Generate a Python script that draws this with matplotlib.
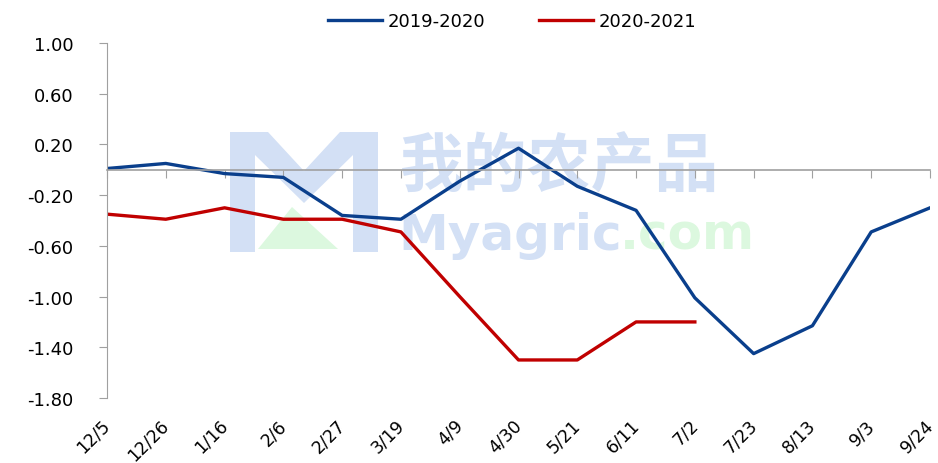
import matplotlib
matplotlib.use("Agg")
import matplotlib.pyplot as plt
from matplotlib.patches import Polygon

plt.rcParams["font.family"] = ["DejaVu Sans", "Noto Sans CJK SC"]
plt.rcParams["axes.unicode_minus"] = False

# ── data ──────────────────────────────────────────────────────────────────────
dates = ["12/5", "12/26", "1/16", "2/6", "2/27", "3/19", "4/9", "4/30",
         "5/21", "6/11", "7/2", "7/23", "8/13", "9/3", "9/24"]
s2019 = [0.01, 0.05, -0.03, -0.06, -0.36, -0.39, -0.09, 0.17,
         -0.13, -0.32, -1.01, -1.45, -1.23, -0.49, -0.30]
s2020 = [-0.35, -0.39, -0.30, -0.39, -0.39, -0.49, -1.00, -1.50,
         -1.50, -1.20, -1.20]
yticks = [1.00, 0.60, 0.20, -0.20, -0.60, -1.00, -1.40, -1.80]

BLUE = "#0a3f8c"
RED = "#c00000"
WM_BLUE = "#d3e0f5"
WM_GREEN = "#dcf8df"

W, H = 938, 464
fig = plt.figure(figsize=(W / 100, H / 100), dpi=100)
ax = fig.add_axes([107 / W, 1 - 399 / H, (930 - 107) / W, (399 - 44) / H])
ax.patch.set_alpha(0)


def px(x, y):
    # pixel (from top-left) -> figure fraction
    return (x / W, 1 - y / H)


# ── watermark (behind the axes) ───────────────────────────────────────────────
m_logo = [(230, 253), (230, 133), (268, 133), (304, 172), (340, 133),
          (378, 133), (378, 253), (353, 253), (353, 156), (304, 204),
          (255, 156), (255, 253)]
fig.patches.append(Polygon([px(*p) for p in m_logo], closed=True,
                           transform=fig.transFigure, facecolor=WM_BLUE,
                           edgecolor="none", zorder=-2))
tri = [(258, 250), (292, 208), (338, 250)]
fig.patches.append(Polygon([px(*p) for p in tri], closed=True,
                           transform=fig.transFigure, facecolor=WM_GREEN,
                           edgecolor="none", zorder=-2))
fig.text(*px(400, 168), "我的农产品", fontsize=46, fontweight="bold",
         color=WM_BLUE, ha="left", va="center", zorder=-1,
         family="Noto Sans CJK SC")
fig.text(*px(398, 236), "Myagric", fontsize=36, fontweight="bold",
         color=WM_BLUE, ha="left", va="center", zorder=-1)
fig.text(*px(620, 236), ".com", fontsize=36, fontweight="bold",
         color=WM_GREEN, ha="left", va="center", zorder=-1)

# ── lines ─────────────────────────────────────────────────────────────────────
x1 = list(range(len(s2019)))
x2 = list(range(len(s2020)))
ax.plot(x1, s2019, color=BLUE, linewidth=2.4, label="2019-2020")
ax.plot(x2, s2020, color=RED, linewidth=2.4, label="2020-2021")

ax.set_xlim(0, len(dates) - 1)
ax.set_ylim(-1.8, 1.0)

# y axis
ax.set_yticks(yticks)
ax.set_yticklabels([f"{v:.2f}" for v in yticks], fontsize=13)
ax.tick_params(axis="y", direction="out", length=6, color="#a0a0a0", pad=18)

# category axis crossing at zero
for side in ["top", "right"]:
    ax.spines[side].set_visible(False)
ax.spines["left"].set_color("#a0a0a0")
ax.spines["bottom"].set_position(("data", 0))
ax.spines["bottom"].set_color("#a0a0a0")
ax.spines["bottom"].set_linewidth(1.2)
ax.set_xticks(x1)
ax.set_xticklabels([])
ax.tick_params(axis="x", direction="out", length=6, color="#a0a0a0")

for i, d in enumerate(dates):
    ax.text(i - 0.1, -0.05, d, transform=ax.get_xaxis_transform(),
            rotation=45, ha="right", va="top", rotation_mode="anchor",
            fontsize=12.5)

ax.legend(loc="center", bbox_to_anchor=px(512, 22),
          bbox_transform=fig.transFigure, ncol=2, frameon=False,
          fontsize=13, handlelength=3.0, columnspacing=3.0, handletextpad=0.3)

fig.savefig("out.png", dpi=100)
